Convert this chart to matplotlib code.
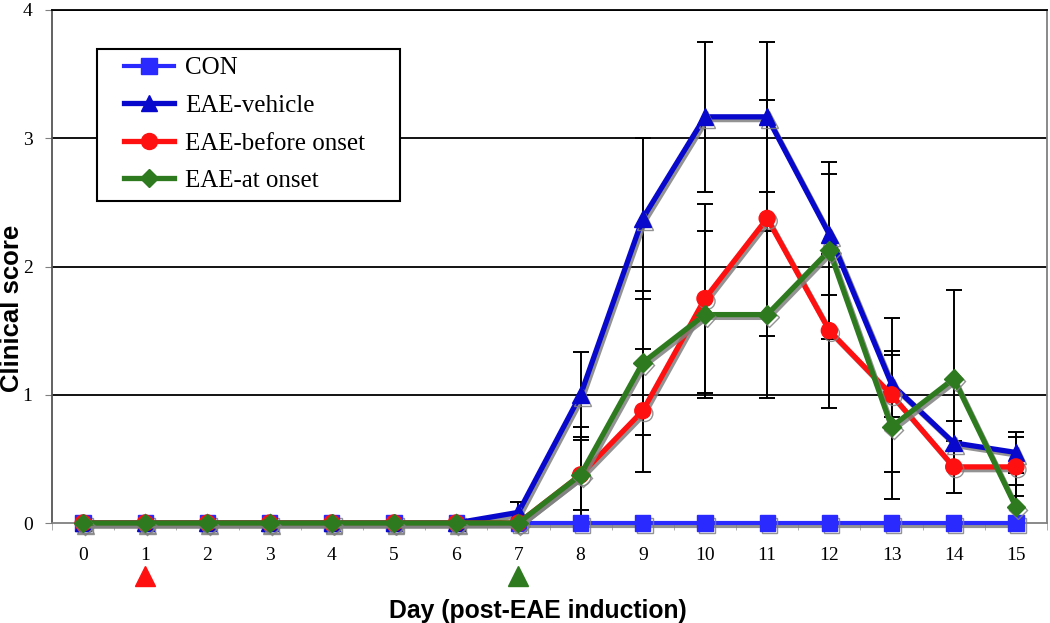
import numpy as np
import matplotlib
matplotlib.use("Agg")
import matplotlib.pyplot as plt
import matplotlib.patheffects as pe
from matplotlib.lines import Line2D
from matplotlib.patches import Rectangle
import matplotlib.transforms as mtransforms

# ---- data ----
days = [0, 1, 2, 3, 4, 5, 6, 7, 8, 9, 10, 11, 12, 13, 14, 15]
con = [0, 0, 0, 0, 0, 0, 0, 0, 0, 0, 0, 0, 0, 0, 0, 0]
vehicle = [0, 0, 0, 0, 0, 0, 0, 0.083, 1.0, 2.375, 3.167, 3.167, 2.25, 1.083, 0.625, 0.55]
vehicle_err = [0, 0, 0, 0, 0, 0, 0, 0.083, 0.33, 0.625, 0.583, 0.583, 0.47, 0.26, 0.17, 0.16]
before = [0, 0, 0, 0, 0, 0, 0, 0, 0.375, 0.875, 1.75, 2.375, 1.5, 1.0, 0.4375, 0.4375]
before_err = [0, 0, 0, 0, 0, 0, 0, 0, 0.375, 0.48, 0.74, 0.92, 0.6, 0.6, 0.2, 0.23]
at_onset = [0, 0, 0, 0, 0, 0, 0, 0, 0.375, 1.25, 1.625, 1.625, 2.125, 0.75, 1.125, 0.125]
at_onset_err = [0, 0, 0, 0, 0, 0, 0, 0, 0.27, 0.56, 0.65, 0.65, 0.69, 0.56, 0.69, 0.17]
labels = ["CON", "EAE-vehicle", "EAE-before onset", "EAE-at onset"]
treatment_days = [1, 7]
treatment_colors = ["#FF1010", "#2E7A1E"]
yticks = [0, 1, 2, 3, 4]

c_con = "#2A2AFF"
c_veh = "#0808CC"
c_red = "#FF1010"
c_grn = "#2E7A1E"

W, H = 1050, 623
fig = plt.figure(figsize=(W / 100, H / 100), dpi=100)
ax = fig.add_axes([52 / W, 100 / H, 995 / W, 513 / H])
ax.set_xlim(-0.5, 15.5)
ax.set_ylim(0, 4)

# grid
for y in yticks[1:]:
    ax.axhline(y, color="black", lw=1.3, zorder=1)

x = np.array(days)
# error bars
for vals, errs in [(vehicle, vehicle_err), (before, before_err), (at_onset, at_onset_err)]:
    v = np.array(vals); e = np.array(errs)
    m = e > 0
    ax.errorbar(x[m], v[m], yerr=e[m], fmt="none", ecolor="black",
                elinewidth=1.4, capsize=6, capthick=1.4, zorder=2)

shadow = [pe.SimpleLineShadow(offset=(1.5, -2), shadow_color="#808080", alpha=0.85), pe.Normal()]
series = [
    (con, c_con, "s", 11, 3.0),
    (vehicle, c_veh, "^", 12, 3.8),
    (before, c_red, "o", 11.5, 3.8),
    (at_onset, c_grn, "D", 9.5, 3.8),
]
handles = []
for (vals, col, mk, ms, lw), lab in zip(series, labels):
    ax.plot(x, vals, color=col, marker=mk, ms=ms, lw=lw, mec=col, mfc=col,
            zorder=3, path_effects=shadow, clip_on=False)
    handles.append(Line2D([], [], color=col, marker=mk, ms=ms, lw=lw, mec=col, mfc=col))

# spines
ax.spines["top"].set_color("black")
ax.spines["top"].set_linewidth(1.3)
ax.spines["right"].set_color("#808080")
ax.spines["left"].set_color("#555555")
ax.spines["bottom"].set_color("#808080")
for s in ["left", "right", "bottom"]:
    ax.spines[s].set_linewidth(1.3)

serif = "Liberation Serif"
ax.set_yticks(yticks)
ax.set_yticklabels([str(t) for t in yticks], fontfamily=serif, fontsize=14)
ax.tick_params(axis="y", length=5, color="#808080", pad=9)
ax.set_xticks(days)
ax.set_xticklabels([str(d) for d in days], fontfamily=serif, fontsize=14)
ax.tick_params(axis="x", which="major", length=0, pad=17)
ax.set_xticks(np.arange(-0.5, 15.6, 1.0), minor=True)
ax.tick_params(axis="x", which="minor", length=5, color="#A0A0A0")

# treatment start markers below axis
trans = mtransforms.blended_transform_factory(ax.transData, ax.transAxes)
for d, c in zip(treatment_days, treatment_colors):
    ax.plot([d], [-0.103], marker="^", ms=15, color=c, mec=c, transform=trans, clip_on=False)

fig.text(538 / W, 1 - 611 / H, "Day (post-EAE induction)", ha="center", va="center",
         fontfamily="Liberation Sans", fontweight="bold", fontsize=17.8)
fig.text(12 / W, 1 - 308 / H, "Clinical score", ha="center", va="center", rotation=90,
         fontfamily="Liberation Sans", fontweight="bold", fontsize=18.5)

# legend (frame drawn separately)
def ax_xy(px, py):
    return ((px - 52) / 995, (523 - py) / 513)

x0, y0 = ax_xy(97, 201)
x1, y1 = ax_xy(400, 49)
ax.add_patch(Rectangle((x0, y0), x1 - x0, y1 - y0, transform=ax.transAxes,
                       facecolor="white", edgecolor="black", lw=1.5, zorder=4, clip_on=False))
ax_l, ax_t = ax_xy(124, 57)
leg = ax.legend(handles, labels, loc="upper left", bbox_to_anchor=(ax_l, ax_t),
                borderaxespad=0, borderpad=0, prop={"family": serif, "size": 18},
                frameon=False, handlelength=2.0, labelspacing=0.6, handletextpad=0.45)
leg.set_zorder(5)

fig.savefig("out.png", dpi=100)
